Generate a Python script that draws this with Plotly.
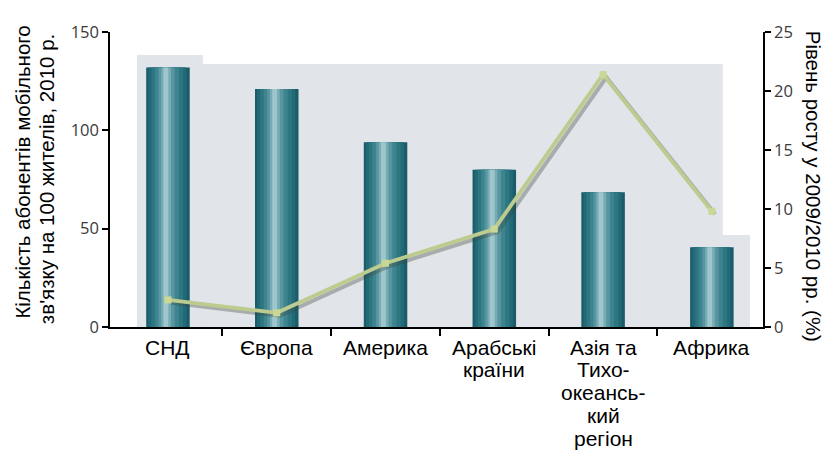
import plotly.graph_objects as go

# Mobile subscriptions per 100 inhabitants (2010) and growth 2009/2010 by region
regions = ["СНД", "Європа", "Америка", "Арабські<br>країни",
           "Азія та<br>Тихо-<br>океансь-<br>кий<br>регіон", "Африка"]
subscribers = [132, 121, 94, 80, 68.5, 40.5]
growth = [2.3, 1.2, 5.4, 8.3, 21.4, 9.8]

left_ticks = [0, 50, 100, 150]
right_ticks = [0, 5, 10, 15, 20, 25]

x = list(range(len(regions)))

fig = go.Figure()

# cylinder-like bars: stacked layers of narrower, lighter bars over a dark base
layers = [
    (0.40, -0.200, "#1b5c69"),
    (0.35, -0.180, "#236a77"),
    (0.29, -0.152, "#2d7682"),
    (0.22, -0.120, "#3d848f"),
    (0.15, -0.088, "#5796a0"),
    (0.09, -0.062, "#78acb4"),
    (0.045, -0.042, "#9ec6cc"),
]
for w, off, col in layers:
    fig.add_trace(go.Bar(
        x=x, y=subscribers, width=w, offset=off,
        marker=dict(color=col, line=dict(width=0)),
        hoverinfo="skip", showlegend=False,
    ))

# growth line, with a soft shadow underneath
fig.add_trace(go.Scatter(
    x=[v + 0.03 for v in x], y=[g - 0.25 for g in growth], yaxis="y2",
    mode="lines", line=dict(color="rgba(60,70,60,0.35)", width=4),
    hoverinfo="skip", showlegend=False,
))
fig.add_trace(go.Scatter(
    x=x, y=growth, yaxis="y2", mode="lines+markers",
    line=dict(color="#bdcc8e", width=3.8),
    marker=dict(symbol="square", size=7, color="#c9d894"),
    showlegend=False,
))

bg = "#e1e4e8"
shapes = [
    dict(type="rect", xref="x", yref="y", x0=-0.285, x1=5.10, y0=-1.5, y1=133.7,
         fillcolor=bg, line=dict(width=0), layer="below"),
    dict(type="rect", xref="x", yref="y", x0=-0.285, x1=0.32, y0=-1.5, y1=138.3,
         fillcolor=bg, line=dict(width=0), layer="below"),
    dict(type="rect", xref="x", yref="y", x0=5.0, x1=5.35, y0=-1.5, y1=46.8,
         fillcolor=bg, line=dict(width=0), layer="below"),
]

label_font = dict(family="Liberation Sans, Arial, sans-serif", size=21, color="black")
title_font = dict(family="Liberation Sans, Arial, sans-serif", size=20.5, color="black")
tick_font = dict(family="Open Sans, Liberation Sans, sans-serif", size=16.5, color="#3a3a3a")

# category labels, one annotation per line for tighter line spacing
annotations = []
for i, lab in enumerate(regions):
    for k, line in enumerate(lab.split("<br>")):
        annotations.append(dict(
            text=line, x=i, y=0, xref="x", yref="y", xanchor="center",
            yanchor="middle", yshift=-(20 + 22.8 * k), showarrow=False,
            font=label_font,
        ))

annotations += [
    dict(text="Кількість абонентів мобільного", xref="paper", yref="paper",
         x=-0.134, y=0.525, xanchor="center", yanchor="middle", textangle=-90,
         showarrow=False, font=title_font),
    dict(text="зв'язку на 100 жителів, 2010 р.", xref="paper", yref="paper",
         x=-0.097, y=0.50, xanchor="center", yanchor="middle", textangle=-90,
         showarrow=False, font=title_font),
    dict(text="Рівень росту у 2009/2010 рр. (%)", xref="paper", yref="paper",
         x=1.077, y=0.478, xanchor="center", yanchor="middle", textangle=90,
         showarrow=False, font=title_font),
]

fig.update_layout(
    width=829, height=457,
    margin=dict(l=110, r=66, t=32, b=130),
    paper_bgcolor="white", plot_bgcolor="rgba(0,0,0,0)",
    barmode="overlay",
    shapes=shapes,
    annotations=annotations,
    font=dict(family="Liberation Sans, Arial, sans-serif", color="black"),
    xaxis=dict(
        range=[-0.533, 5.47], tickmode="array", tickvals=x,
        showticklabels=False, ticks="", showgrid=False, zeroline=False,
        showline=True, linecolor="black", linewidth=1.5,
        minor=dict(tickmode="array", tickvals=[0.5, 1.5, 2.5, 3.5, 4.5],
                   ticks="outside", ticklen=7, tickcolor="black", tickwidth=1.5,
                   showgrid=False),
    ),
    yaxis=dict(
        range=[0, 150], tickmode="array", tickvals=left_ticks,
        ticks="outside", ticklen=6, tickcolor="black", tickwidth=1.5,
        showline=True, linecolor="black", linewidth=1.5,
        showgrid=False, zeroline=False, tickfont=tick_font,
    ),
    yaxis2=dict(
        range=[0, 25], overlaying="y", side="right", tickmode="array",
        tickvals=right_ticks, ticks="outside", ticklen=6, tickcolor="black",
        tickwidth=1.5, showline=True, linecolor="black", linewidth=1.5,
        showgrid=False, zeroline=False, tickfont=tick_font,
    ),
)

fig.write_html("out.html")
